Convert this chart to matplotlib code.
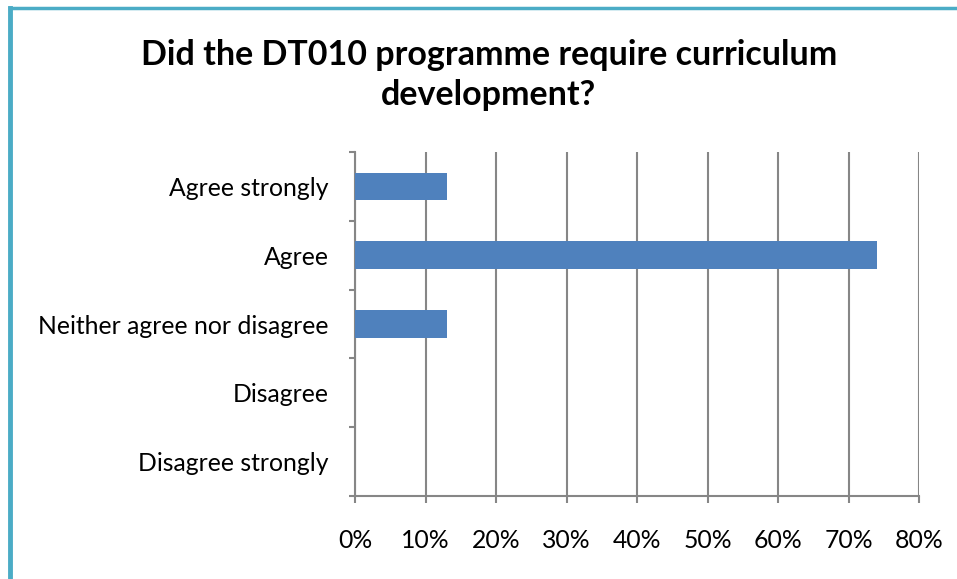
import matplotlib
matplotlib.use("Agg")
import matplotlib.pyplot as plt
from matplotlib.lines import Line2D
from matplotlib.ticker import FuncFormatter

plt.rcParams['font.family'] = ['Lato', 'DejaVu Sans']

categories = ['Agree strongly', 'Agree', 'Neither agree nor disagree',
              'Disagree', 'Disagree strongly']
shares = [0.13, 0.74, 0.13, 0.0, 0.0]
x_ticks = [0.0, 0.1, 0.2, 0.3, 0.4, 0.5, 0.6, 0.7, 0.8]

W, H = 957, 579
fig = plt.figure(figsize=(W / 100, H / 100), dpi=100)
ax = fig.add_axes([355 / W, 1 - 496 / H, (919 - 355) / W, (496 - 152) / H])

ypos = list(range(len(categories)))
ax.barh(ypos, shares, height=0.4, color='#4F81BD', zorder=3)
ax.set_ylim(len(categories) - 0.5, -0.5)
ax.set_xlim(0, 0.8)

grey = '#868686'
ax.set_xticks(x_ticks)
ax.xaxis.set_major_formatter(FuncFormatter(lambda v, _: f'{v * 100:.0f}%'))
ax.grid(axis='x', color=grey, linewidth=1.5, zorder=0)
ax.set_yticks(ypos)
ax.set_yticklabels(categories)
ax.set_yticks([i - 0.5 for i in range(len(categories) + 1)], minor=True)
ax.tick_params(axis='y', which='major', length=0, pad=19, labelsize=17.8)
ax.tick_params(axis='y', which='minor', length=4.5, width=1.5, color=grey)
ax.tick_params(axis='x', length=5, width=1.5, color=grey, pad=19, labelsize=17.8)

for side in ['top', 'right']:
    ax.spines[side].set_visible(False)
for side in ['left', 'bottom']:
    ax.spines[side].set_color(grey)
    ax.spines[side].set_linewidth(1.5)

fig.text(489 / W, 1 - 75 / H,
         'Did the DT010 programme require curriculum\ndevelopment?',
         ha='center', va='center', fontsize=24.5, fontweight='bold',
         linespacing=1.3)

# frame edges along the top and left
frame = '#4BACC6'
fig.add_artist(Line2D([10 / W, 10 / W], [0, 1 - 8 / H], transform=fig.transFigure,
                      color=frame, linewidth=3.5))
fig.add_artist(Line2D([10 / W, 1], [1 - 8 / H, 1 - 8 / H], transform=fig.transFigure,
                      color=frame, linewidth=2.5))

fig.savefig('out.png', dpi=100)
